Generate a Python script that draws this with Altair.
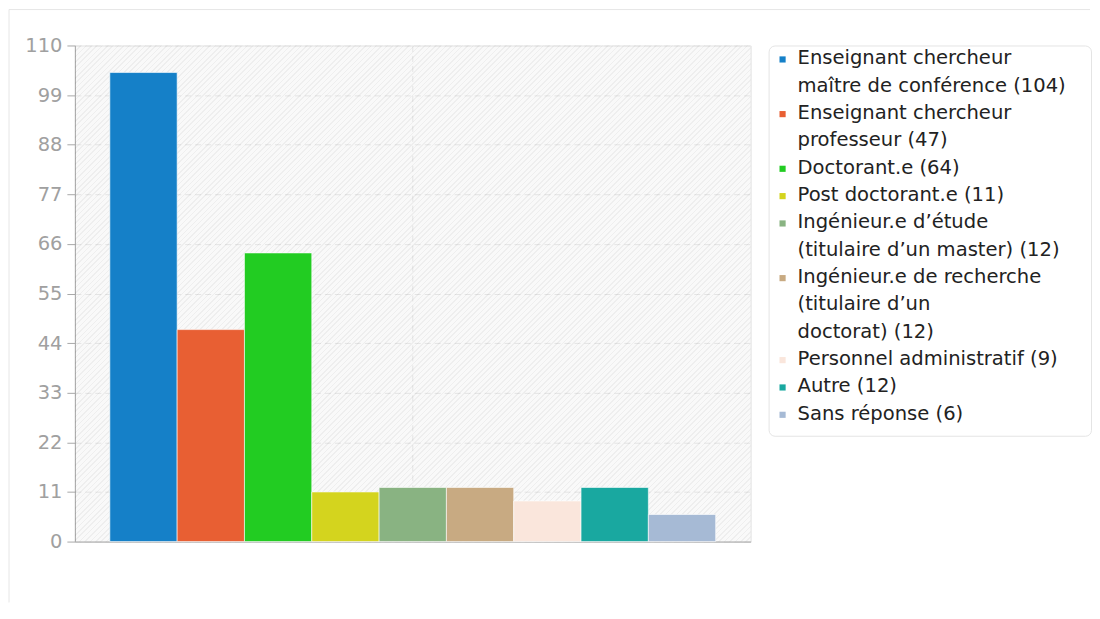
import altair as alt
import pandas as pd

categories = [
    "Enseignant chercheur maître de conférence",
    "Enseignant chercheur professeur",
    "Doctorant.e",
    "Post doctorant.e",
    "Ingénieur.e d’étude (titulaire d’un master)",
    "Ingénieur.e de recherche (titulaire d’un doctorat)",
    "Personnel administratif",
    "Autre",
    "Sans réponse",
]
counts = [104, 47, 64, 11, 12, 12, 9, 12, 6]
legend_lines = [
    ["Enseignant chercheur", "maître de conférence (104)"],
    ["Enseignant chercheur", "professeur (47)"],
    ["Doctorant.e (64)"],
    ["Post doctorant.e (11)"],
    ["Ingénieur.e d’étude", "(titulaire d’un master) (12)"],
    ["Ingénieur.e de recherche", "(titulaire d’un", "doctorat) (12)"],
    ["Personnel administratif (9)"],
    ["Autre (12)"],
    ["Sans réponse (6)"],
]
colors = ["#1580C8", "#E85F33", "#22CC22", "#D4D41E", "#89B382",
          "#C8AA82", "#FAE6DC", "#19A8A0", "#A6BAD5"]
y_ticks = [0, 11, 22, 33, 44, 55, 66, 77, 88, 99, 110]

df = pd.DataFrame({"category": categories, "count": counts, "grp": ["all"] * len(categories)})
leg_df = pd.DataFrame({"category": categories, "lines": legend_lines})
frame_df = pd.DataFrame({"k": [0]})

PW, PH = 677, 497
color_scale = alt.Scale(domain=categories, range=colors)
grid_color = "#e4e4e4"
axis_color = "#a8a8a8"

# diagonal hatch for the plot background (style only)
a = (PW + PH) / (PW ** 2 + PH ** 2)
n_stripes = int(round((PW + PH) / 2 ** 0.5 / 3.8))
stops = []
for k in range(n_stripes):
    s0 = k / n_stripes
    s1 = (k + 0.3) / n_stripes
    s2 = (k + 1) / n_stripes
    stops += [
        alt.GradientStop(offset=s0, color="rgba(0,0,0,0.045)"),
        alt.GradientStop(offset=s1, color="rgba(0,0,0,0.045)"),
        alt.GradientStop(offset=s1, color="rgba(0,0,0,0)"),
        alt.GradientStop(offset=s2, color="rgba(0,0,0,0)"),
    ]
hatch_fill = alt.LinearGradient(gradient="linear", stops=stops,
                                x1=0, y1=0, x2=a * PW, y2=a * PH)

hatch = alt.Chart(frame_df).mark_rect(fill=hatch_fill).encode(
    x=alt.value(0), x2=alt.value("width"), y=alt.value(0), y2=alt.value("height"))

bars = alt.Chart(df).mark_bar(stroke="white", strokeWidth=1, strokeOpacity=0.6).encode(
    x=alt.X("grp:N", title=None,
            scale=alt.Scale(paddingInner=0, paddingOuter=0.0577),
            axis=alt.Axis(labels=False, ticks=False, domain=True, domainColor=axis_color,
                          grid=True, gridDash=[6, 4], gridColor=grid_color, bandPosition=0.5)),
    xOffset=alt.XOffset("category:N", sort=categories,
                        scale=alt.Scale(paddingInner=0, paddingOuter=0)),
    y=alt.Y("count:Q", title=None,
            scale=alt.Scale(domain=[0, 110], nice=False, zero=True),
            axis=alt.Axis(values=y_ticks, labelFontSize=19.5, labelColor="#a0a0a0",
                          tickColor=axis_color, tickSize=8, labelPadding=5,
                          domainColor=axis_color, gridDash=[6, 4], gridColor=grid_color)),
    color=alt.Color("category:N", scale=color_scale, legend=None),
)

# light card outline around the whole chart (decoration)
frame_top = alt.Chart(frame_df).mark_rule(color="#e6e6e6").encode(
    x=alt.value(-66), x2=alt.value(1017), y=alt.value(-36))
frame_left = alt.Chart(frame_df).mark_rule(color="#e6e6e6").encode(
    x=alt.value(-66), y=alt.value(-36), y2=alt.value(558))

main = alt.layer(hatch, frame_top, frame_left, bars).properties(
    width=PW, height=PH,
    view=alt.ViewBackground(fill="#f9f9f9", stroke="#e2e2e2"),
)

leg_base = (
    alt.Chart(leg_df)
    .transform_flatten(["lines"], as_=["line"])
    .transform_window(idx="row_number()")
    .transform_window(sub="row_number()", groupby=["category"])
)
y_leg = alt.Y("idx:Q", scale=alt.Scale(domain=[1, 14], range=[13, 369]), axis=None)

leg_text = leg_base.mark_text(align="left", baseline="middle", fontSize=19.6, color="#222222").encode(
    x=alt.value(29), y=y_leg, text="line:N")
leg_sym = leg_base.transform_filter("datum.sub == 1").mark_square(size=38, opacity=1, yOffset=1).encode(
    x=alt.value(14), y=y_leg,
    color=alt.Color("category:N", scale=color_scale, legend=None))

legend = alt.layer(leg_sym, leg_text).properties(
    width=323, height=391,
    view=alt.ViewBackground(fill="white", stroke="#e4e4e4", cornerRadius=6),
)

chart = alt.hconcat(main, legend, spacing=18, bounds="flush").properties(padding=0).configure(
    font="DejaVu Sans")

chart.save("out.html", embed_options={"renderer": "svg", "actions": False})
